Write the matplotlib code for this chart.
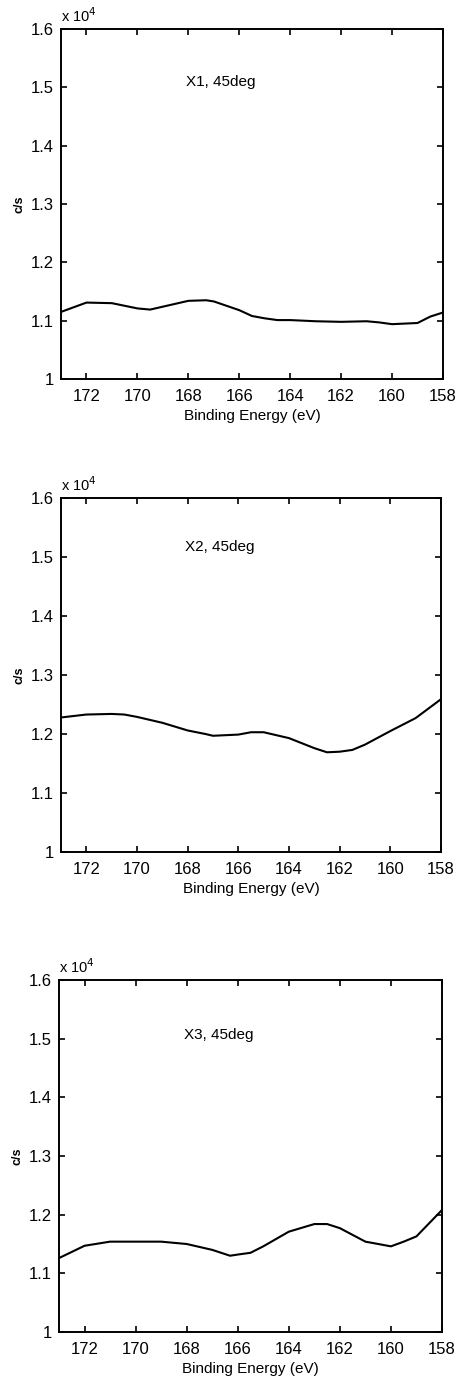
import matplotlib
matplotlib.use("Agg")
import matplotlib.pyplot as plt
from matplotlib.ticker import FixedLocator, FuncFormatter

plt.rcParams['font.family'] = ['Liberation Sans', 'DejaVu Sans']

# binding energy (eV) and counts (x 10^4 c/s)
be_x1 = [173, 172, 171, 170, 169.5, 169, 168, 167.3, 167, 166, 165.5, 165, 164.5,
         164, 163, 162, 161, 160.5, 160, 159, 158.5, 158]
cps_x1 = [1.115, 1.131, 1.130, 1.121, 1.119, 1.124, 1.134, 1.135, 1.133, 1.118, 1.108,
          1.104, 1.101, 1.101, 1.099, 1.098, 1.099, 1.097, 1.094, 1.096, 1.107, 1.114]

be_x2 = [173, 172, 171, 170.5, 170, 169, 168, 167.3, 167, 166, 165.5, 165, 164,
         163, 162.5, 162, 161.5, 161, 160, 159, 158]
cps_x2 = [1.228, 1.233, 1.234, 1.233, 1.229, 1.219, 1.206, 1.200, 1.197, 1.199, 1.203,
          1.203, 1.193, 1.176, 1.169, 1.170, 1.173, 1.182, 1.205, 1.227, 1.259]

be_x3 = [173, 172, 171, 170, 169, 168, 167, 166.3, 166, 165.5, 165, 164, 163,
         162.5, 162, 161, 160, 159.5, 159, 158]
cps_x3 = [1.126, 1.147, 1.154, 1.154, 1.154, 1.150, 1.140, 1.130, 1.132, 1.135, 1.146,
          1.171, 1.184, 1.184, 1.177, 1.154, 1.146, 1.154, 1.163, 1.208]

labels = ['X1, 45deg', 'X2, 45deg', 'X3, 45deg']
x_ticks = [172, 170, 168, 166, 164, 162, 160, 158]
y_ticks = [1.0, 1.1, 1.2, 1.3, 1.4, 1.5, 1.6]

W, H = 464, 1380
fig = plt.figure(figsize=(W / 100, H / 100), dpi=100)

# axes boxes in pixels: left, top, right, bottom
boxes = [(61, 29, 443, 379), (61, 498, 441, 852), (59, 980, 442, 1332)]
label_y = [1.509, 1.517, 1.506]
series = [(be_x1, cps_x1), (be_x2, cps_x2), (be_x3, cps_x3)]

for (l, t, r, b), (xs, ys), lab, ly in zip(boxes, series, labels, label_y):
    ax = fig.add_axes([l / W, 1 - b / H, (r - l) / W, (b - t) / H])
    ax.plot(xs, ys, color='black', lw=1.5)
    ax.set_xlim(173, 158)
    ax.set_ylim(1.0, 1.6)
    ax.xaxis.set_major_locator(FixedLocator(x_ticks))
    ax.yaxis.set_major_locator(FixedLocator(y_ticks))
    ax.yaxis.set_major_formatter(FuncFormatter(lambda v, p: '%g' % round(v, 1)))
    ax.tick_params(direction='in', top=True, right=True, length=4, width=1.2,
                   labelsize=12, pad=5)
    ax.tick_params(axis='x', pad=7)
    for s in ax.spines.values():
        s.set_linewidth(1.4)
    ax.set_xlabel('Binding Energy (eV)', fontsize=11, labelpad=4)
    ax.set_ylabel('c/s', fontsize=9, fontweight='bold', labelpad=4)
    ax.text(168.1, ly, lab, fontsize=11, va='center', ha='left')
    ax.text(0.0, 1.012, r'x 10$^4$', transform=ax.transAxes, fontsize=10.5,
            ha='left', va='bottom')

fig.savefig('out.png', dpi=100)
